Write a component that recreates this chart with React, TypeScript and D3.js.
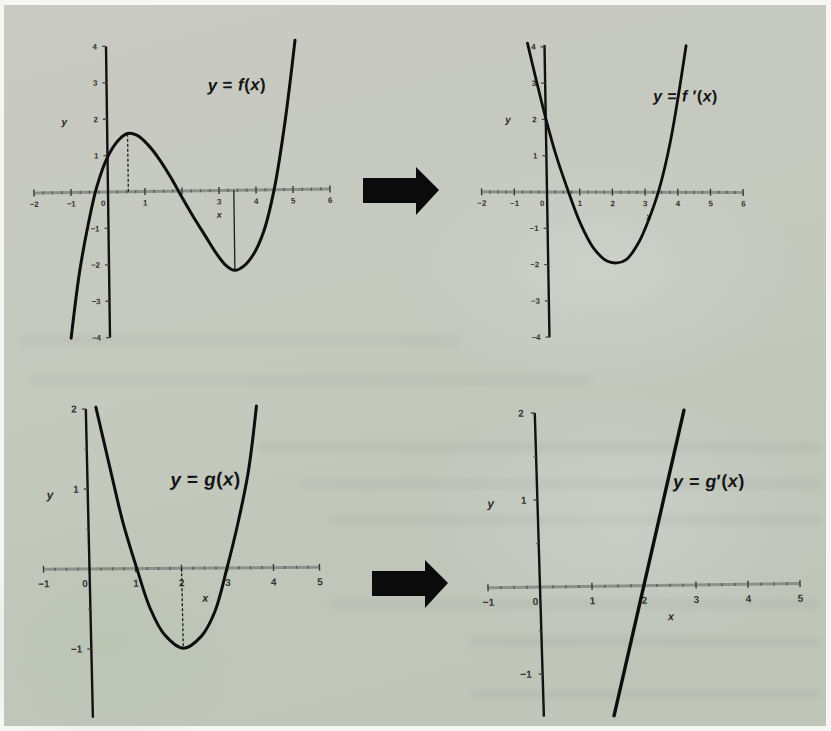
import React from "react";
import * as d3 from "d3";

// y = f(x): cubic traced point by point
const fX = [-1.05, -0.8, -0.55, -0.3, 0, 0.3, 0.55, 0.8, 1.1, 1.4, 1.7, 2.0, 2.3, 2.6, 2.9, 3.15, 3.4, 3.65, 3.9, 4.2, 4.5, 4.8, 5.11];
const fY = [-4.0, -2.2, -0.9, 0.15, 0.96, 1.42, 1.6, 1.55, 1.28, 0.88, 0.38, -0.18, -0.72, -1.22, -1.72, -2.05, -2.2, -2.08, -1.78, -1.12, 0.05, 1.8, 4.1];

// y = f'(x): parabola
const fPrimeX = [-0.52, -0.25, 0, 0.3, 0.64, 1.0, 1.4, 1.8, 2.1, 2.4, 2.8, 3.1, 3.42, 3.8, 4.33];
const fPrimeY = [4.1, 3.0, 2.03, 1.0, 0.05, -0.85, -1.55, -1.9, -1.95, -1.85, -1.35, -0.75, 0.05, 1.4, 4.04];

// y = g(x): parabola
const gX = [0.22, 0.5, 0.75, 1.03, 1.3, 1.6, 2.0, 2.4, 2.7, 2.99, 3.25, 3.5, 3.71];
const gY = [2.02, 1.25, 0.58, 0, -0.5, -0.83, -1.0, -0.85, -0.55, 0, 0.56, 1.2, 2.02];

// y = g'(x): straight line
const gPrimeX = [1.35, 2.87];
const gPrimeY = [-1.49, 2.01];

// critical points marked with drop lines
const fMaxPoint = [0.55, 1.6];
const fMinPoint = [3.4, -2.2];
const gMinPoint = [2.0, -1.0];

// axis ticks and labels
const topXTicks = [-2, -1, 0, 1, 2, 3, 4, 5, 6];
const topLeftXLabels = [-2, -1, 0, 1, 3, 4, 5, 6];
const topRightXLabels = [-2, -1, 0, 1, 2, 3, 4, 5, 6];
const topYTicks = [4, 3, 2, 1, -1, -2, -3, -4];
const bottomXTicks = [-1, 0, 1, 2, 3, 4, 5];
const bottomYTicks = [2, 1, -1];
const bottomYHalfTicks = [1.5, 0.5, -0.5];

const W = 831;
const H = 731;
const FONT = "'Liberation Sans', Arial, sans-serif";

type PanelCfg = {
  ox: number; oy: number; xs: number; ys: number;
  sx: number; sy: number;
  xDomain: [number, number];
  yAxis: [number, number];
  xTicks: number[]; xLabels: number[];
  yTicks: number[]; yHalf: number[];
  tickFont: number;
  yLabelPos: [number, number];
  xLabelPos: [number, number];
  xLabelDy: number; yLabelDx: number;
  curveX: number[]; curveY: number[];
  curveWidth: number;
  title: React.ReactNode;
  titlePos: [number, number];
  titleFont: number;
  drops: { p: number[]; dashed: boolean }[];
};

function Panel({ c }: { c: PanelCfg }) {
  const x = d3.scaleLinear().domain([0, 1]).range([0, c.xs]);
  const y = d3.scaleLinear().domain([0, 1]).range([0, -c.ys]);
  const pts: [number, number][] = c.curveX.map((v, i) => [v, c.curveY[i]]);
  const line = d3
    .line<[number, number]>()
    .x((d) => x(d[0]))
    .y((d) => y(d[1]))
    .curve(d3.curveCatmullRom.alpha(0.5));
  const minor: number[] = [];
  for (let v = c.xDomain[0]; v <= c.xDomain[1] + 1e-9; v += 0.25) {
    if (Math.abs(v - Math.round(v)) > 1e-6) minor.push(v);
  }
  return (
    <g transform={`translate(${c.ox},${c.oy}) matrix(1,${c.sx},${c.sy},1,0,0)`}>
      {/* x axis */}
      <line x1={x(c.xDomain[0])} x2={x(c.xDomain[1])} y1={0} y2={0} stroke="#8d9088" strokeWidth={3} />
      {minor.map((v) => (
        <line key={"m" + v} x1={x(v)} x2={x(v)} y1={-1.5} y2={1.5} stroke="#55574f" strokeWidth={1.3} />
      ))}
      {c.xTicks.map((v) => (
        <line key={"t" + v} x1={x(v)} x2={x(v)} y1={-3.5} y2={3.5} stroke="#3a3b36" strokeWidth={1.4} />
      ))}
      {c.xLabels.map((v) => (
        <text
          key={"l" + v}
          x={x(v) + (v === 0 ? -5 : 0)}
          y={c.xLabelDy}
          textAnchor="middle"
          fontFamily={FONT}
          fontWeight="bold"
          fontSize={c.tickFont}
          fill="#33342f"
        >
          {v < 0 ? "−" + Math.abs(v) : String(v)}
        </text>
      ))}
      {/* y axis */}
      <line x1={0} x2={0} y1={y(c.yAxis[0])} y2={y(c.yAxis[1])} stroke="#121212" strokeWidth={2.4} />
      {c.yHalf.map((v) => (
        <line key={"h" + v} x1={-2.5} x2={0} y1={y(v)} y2={y(v)} stroke="#55574f" strokeWidth={1.2} />
      ))}
      {c.yTicks.map((v) => (
        <g key={"y" + v}>
          <line x1={-4} x2={0} y1={y(v)} y2={y(v)} stroke="#44453f" strokeWidth={1.3} />
          <text
            x={c.yLabelDx}
            y={y(v)}
            dy="0.35em"
            textAnchor="end"
            fontFamily={FONT}
            fontWeight="bold"
            fontSize={c.tickFont}
            fill="#33342f"
          >
            {v < 0 ? "−" + Math.abs(v) : String(v)}
          </text>
        </g>
      ))}
      {/* axis names */}
      <text x={x(c.yLabelPos[0])} y={y(c.yLabelPos[1])} fontFamily={FONT} fontStyle="italic" fontWeight="bold" fontSize={c.tickFont + 2} fill="#2c2d29" textAnchor="middle">y</text>
      <text x={x(c.xLabelPos[0])} y={y(c.xLabelPos[1])} fontFamily={FONT} fontStyle="italic" fontWeight="bold" fontSize={c.tickFont + 1} fill="#2c2d29" textAnchor="middle">x</text>
      {/* drop lines to the axis */}
      {c.drops.map((d, i) => (
        <line
          key={"d" + i}
          x1={x(d.p[0])}
          x2={x(d.p[0])}
          y1={0}
          y2={y(d.p[1])}
          stroke="#1e1e1c"
          strokeWidth={1.3}
          strokeDasharray={d.dashed ? "3,2" : undefined}
        />
      ))}
      {/* curve */}
      <path d={line(pts) || ""} fill="none" stroke="#0e0e0e" strokeWidth={c.curveWidth} strokeLinecap="round" strokeLinejoin="round" />
      <text x={x(c.titlePos[0])} y={y(c.titlePos[1])} fontFamily={FONT} fontWeight="bold" fontSize={c.titleFont} letterSpacing={0.4} fill="#141414">
        {c.title}
      </text>
    </g>
  );
}

const it = (s: string) => <tspan fontStyle="italic">{s}</tspan>;

const panels: PanelCfg[] = [
  {
    ox: 108, oy: 192, xs: 37, ys: 36.4, sx: -0.0136, sy: 0.0137,
    xDomain: [-2, 6], yAxis: [4, -4],
    xTicks: topXTicks, xLabels: topLeftXLabels, yTicks: topYTicks, yHalf: [],
    tickFont: 8, yLabelPos: [-1.16, 1.85], xLabelPos: [3.0, -0.75],
    xLabelDy: 14, yLabelDx: -9,
    curveX: fX, curveY: fY, curveWidth: 3,
    title: (<>{it("y")} = {it("f")}({it("x")})</>),
    titlePos: [2.73, 2.74], titleFont: 17,
    drops: [{ p: fMaxPoint, dashed: true }, { p: fMinPoint, dashed: false }],
  },
  {
    ox: 547, oy: 192, xs: 32.7, ys: 36.3, sx: 0.002, sy: 0.017,
    xDomain: [-2, 6], yAxis: [4.05, -4],
    xTicks: topXTicks, xLabels: topRightXLabels, yTicks: topYTicks, yHalf: [],
    tickFont: 8, yLabelPos: [-1.16, 1.9], xLabelPos: [3.1, -0.75],
    xLabelDy: 14, yLabelDx: -9,
    curveX: fPrimeX, curveY: fPrimeY, curveWidth: 2.8,
    title: (<>{it("y")} = {it("f")} ′({it("x")})</>),
    titlePos: [3.3, 2.5], titleFont: 16,
    drops: [],
  },
  {
    ox: 89.5, oy: 569, xs: 46, ys: 80, sx: -0.008, sy: 0.023,
    xDomain: [-1, 5], yAxis: [2, -1.86],
    xTicks: bottomXTicks, xLabels: bottomXTicks, yTicks: bottomYTicks, yHalf: bottomYHalfTicks,
    tickFont: 10, yLabelPos: [-0.82, 0.88], xLabelPos: [2.5, -0.42],
    xLabelDy: 18, yLabelDx: -9,
    curveX: gX, curveY: gY, curveWidth: 3,
    title: (<>{it("y")} = {it("g")}({it("x")})</>),
    titlePos: [1.8, 1.03], titleFont: 19,
    drops: [{ p: gMinPoint, dashed: true }],
  },
  {
    ox: 540, oy: 587, xs: 52, ys: 87, sx: -0.013, sy: 0.03,
    xDomain: [-1, 5], yAxis: [2, -1.49],
    xTicks: bottomXTicks, xLabels: bottomXTicks, yTicks: bottomYTicks, yHalf: bottomYHalfTicks,
    tickFont: 10, yLabelPos: [-0.9, 0.92], xLabelPos: [2.5, -0.4],
    xLabelDy: 18, yLabelDx: -11,
    curveX: gPrimeX, curveY: gPrimeY, curveWidth: 3.4,
    title: (<>{it("y")} = {it("g")}′({it("x")})</>),
    titlePos: [2.62, 1.12], titleFont: 18,
    drops: [],
  },
];

// faint show-through of print from the reverse side of the sheet
const ghostRows = [
  { x: 20, y: 340, w: 440 }, { x: 30, y: 380, w: 560 }, { x: 260, y: 447, w: 560 },
  { x: 300, y: 484, w: 520 }, { x: 330, y: 520, w: 490 }, { x: 330, y: 604, w: 490 },
  { x: 470, y: 642, w: 350 }, { x: 470, y: 694, w: 350 },
];

function Arrow({ x, y }: { x: number; y: number }) {
  const pts = [
    [0, -12], [53, -12], [53, -23], [76, 0], [53, 25], [53, 13], [0, 13],
  ];
  return <polygon points={pts.map((p) => `${x + p[0]},${y + p[1]}`).join(" ")} fill="#0b0b0b" />;
}

export default function App() {
  return (
    <svg width={W} height={H} viewBox={`0 0 ${W} ${H}`} style={{ position: "fixed", left: 0, top: 0 }}>
      <defs>
        <linearGradient id="page" x1="0" y1="0" x2="0.3" y2="1">
          <stop offset="0" stopColor="#c9cac2" />
          <stop offset="0.5" stopColor="#c5c9be" />
          <stop offset="1" stopColor="#bfc5b9" />
        </linearGradient>
        <radialGradient id="cool" cx="0.5" cy="0.5" r="0.5">
          <stop offset="0" stopColor="#d2d8d6" stopOpacity="0.5" />
          <stop offset="1" stopColor="#d2d8d6" stopOpacity="0" />
        </radialGradient>
        <radialGradient id="green" cx="0.5" cy="0.5" r="0.5">
          <stop offset="0" stopColor="#b8c4b0" stopOpacity="0.6" />
          <stop offset="1" stopColor="#b8c4b0" stopOpacity="0" />
        </radialGradient>
        <filter id="soft" x="-10%" y="-200%" width="120%" height="500%">
          <feGaussianBlur stdDeviation="3" />
        </filter>
      </defs>
      <rect x={0} y={0} width={W} height={H} fill="#f6f6f4" />
      <rect x={4} y={5} width={822} height={721} fill="url(#page)" />
      <ellipse cx={600} cy={270} rx={200} ry={120} fill="url(#cool)" />
      <ellipse cx={620} cy={520} rx={200} ry={130} fill="url(#cool)" />
      <ellipse cx={110} cy={640} rx={150} ry={110} fill="url(#green)" />
      <g filter="url(#soft)" opacity={0.06}>
        {ghostRows.map((r, i) => (
          <rect key={i} x={r.x} y={r.y - 4} width={r.w} height={8} fill="#3c4038" />
        ))}
      </g>
      {panels.map((c, i) => (
        <Panel key={i} c={c} />
      ))}
      <Arrow x={363} y={190} />
      <Arrow x={372} y={583} />
    </svg>
  );
}
